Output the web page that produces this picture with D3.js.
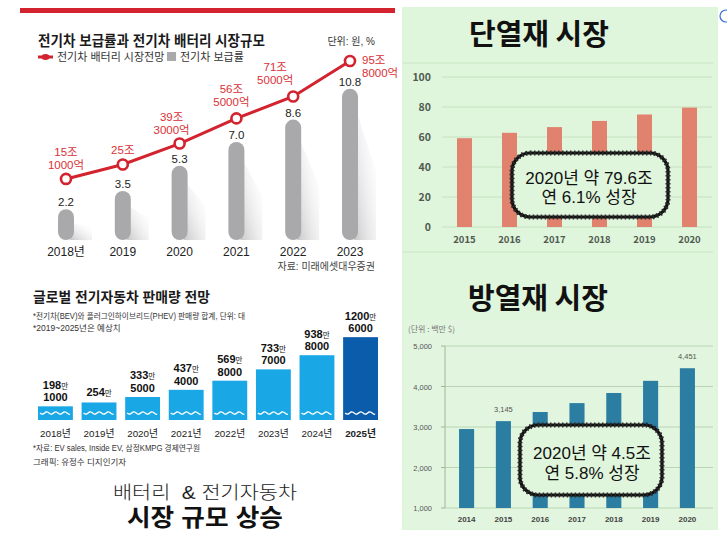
<!DOCTYPE html>
<html><head><meta charset="utf-8">
<script src="https://cdn.jsdelivr.net/npm/d3@7"></script>
<style>
body{margin:0;background:#fff;}
svg{display:block;font-family:"Noto Sans CJK KR","Noto Sans",sans-serif;}
.pre{white-space:pre;}
</style></head>
<body>
<svg id="c" width="727" height="548"></svg>
<script>
// ---------- DATA ----------
const evYears = ["2018년","2019","2020","2021","2022","2023"];
const evRate = [2.2, 3.5, 5.3, 7.0, 8.6, 10.8];              // 전기차 보급률 (%)
const batteryMarket = [15.1, 25, 39.3, 56.5, 71.5, 95.8];    // 배터리 시장 (조 원)
const batteryLabels = [["15조","1000억"],["25조"],["39조","3000억"],["56조","5000억"],["71조","5000억"],["95조","8000억"]];

const salesYears = ["2018년","2019년","2020년","2021년","2022년","2023년","2024년","2025년"];
const salesValues = [1981000, 2540000, 3335000, 4374000, 5698000, 7337000, 9388000, 12006000];
const salesLabels = [["198","1000"],["254"],["333","5000"],["437","4000"],["569","8000"],["733","7000"],["938","8000"],["1200","6000"]];

const insulYears = ["2015","2016","2017","2018","2019","2020"];
const insulValues = [59.2, 62.8, 66.6, 70.7, 75.0, 79.6];
const insulTicks = [0, 20, 40, 60, 80, 100];

const heatYears = ["2014","2015","2016","2017","2018","2019","2020"];
const heatValues = [2950, 3145, 3370, 3590, 3840, 4140, 4451];
const heatTicks = [1000, 2000, 3000, 4000, 5000];
const heatLabeled = ["2015","2020"];

// ---------- DRAW ----------
const svg = d3.select("#c");
const NUM = '"Liberation Sans","Noto Sans CJK KR",sans-serif';
const NARROW = '"Liberation Sans Narrow","Liberation Sans","Noto Sans CJK KR",sans-serif';
const defs = svg.append("defs");
const sg = defs.append("linearGradient").attr("id","shadow").attr("x1","0").attr("y1","1").attr("x2","1").attr("y2","0");
sg.append("stop").attr("offset","0").attr("stop-color","#9a9a9a").attr("stop-opacity",0.55);
sg.append("stop").attr("offset","1").attr("stop-color","#ffffff").attr("stop-opacity",0);

// ===== Chart 1: 전기차 보급률과 배터리 시장규모 =====
svg.append("rect").attr("x",20).attr("y",8).attr("width",375).attr("height",5).attr("fill","#d2232f");
svg.append("text").attr("x",38).attr("y",46).attr("font-family",NUM).attr("font-size",14.5).attr("font-weight",700).attr("fill","#1a1a1a")
  .attr("textLength",227).attr("lengthAdjust","spacingAndGlyphs").text("전기차 보급률과 전기차 배터리 시장규모");
svg.append("text").attr("x",375).attr("y",45).attr("text-anchor","end").attr("font-family",NUM).attr("font-size",10).attr("fill","#333").text("단위: 원, %");
// legend
svg.append("line").attr("x1",38).attr("x2",53).attr("y1",57).attr("y2",57).attr("stroke","#d2232f").attr("stroke-width",3);
svg.append("ellipse").attr("cx",45.5).attr("cy",57).attr("rx",4).attr("ry",3).attr("fill","#d2232f");
svg.append("text").attr("x",57).attr("y",61).attr("font-family",NUM).attr("font-size",11).attr("fill","#333").text("전기차 배터리 시장전망");
svg.append("rect").attr("x",167).attr("y",52).attr("width",9).attr("height",9).attr("fill","#a9a9ab");
svg.append("text").attr("x",180).attr("y",61).attr("font-family",NUM).attr("font-size",11).attr("fill","#333").text("전기차 보급률");

const x1 = d3.scalePoint().domain(evYears).range([66, 350]);
const yBar1 = d3.scaleLinear().domain([0, 12]).range([240, 72]);
const yLine1 = d3.scaleLinear().domain([0, 100]).range([201, 54.8]);
const bw1 = 16;
// shadows
svg.append("g").selectAll("path").data(evRate).join("path")
  .attr("d",(d,i)=>{const cx=x1(evYears[i]);const top=yBar1(d);const b=240;
     return `M${cx+4},${b} L${cx+4},${top+14} L${cx+26},${b-Math.max(6,(b-top)*0.45)} L${cx+26},${b} Z`;})
  .attr("fill","url(#shadow)");
svg.append("g").selectAll("rect").data(evRate).join("rect")
  .attr("x",(d,i)=>x1(evYears[i])-bw1/2).attr("width",bw1)
  .attr("y",d=>yBar1(d)).attr("height",d=>240-yBar1(d))
  .attr("rx",8).attr("fill","#a9a9ab");
svg.append("g").selectAll("text").data(evRate).join("text")
  .attr("x",(d,i)=>x1(evYears[i])).attr("y",d=>yBar1(d)-3)
  .attr("text-anchor","middle").attr("font-family",NUM).attr("font-size",11.5).attr("fill","#222").text(d=>d.toFixed(1));
svg.append("g").selectAll("text").data(evYears).join("text")
  .attr("x",d=>x1(d)).attr("y",256).attr("text-anchor","middle").attr("font-family",NUM).attr("font-size",12).attr("fill","#222").text(d=>d);
svg.append("text").attr("x",375).attr("y",270).attr("text-anchor","end").attr("font-family",NUM).attr("font-size",10).attr("fill","#444").text("자료: 미래에셋대우증권");
// line
const line1 = d3.line().x((d,i)=>x1(evYears[i])).y(d=>yLine1(d));
svg.append("path").datum(batteryMarket).attr("d",line1).attr("fill","none").attr("stroke","#d2232f").attr("stroke-width",3);
svg.append("g").selectAll("circle").data(batteryMarket).join("circle")
  .attr("cx",(d,i)=>x1(evYears[i])).attr("cy",d=>yLine1(d)).attr("r",5)
  .attr("fill","#fff").attr("stroke","#d2232f").attr("stroke-width",2.6);
const lblDx = [0, 0, -8, -5, -18, 12];
batteryLabels.forEach((lines,i)=>{
  const px = x1(evYears[i]), py = yLine1(batteryMarket[i]);
  const right = i === batteryLabels.length-1;
  const t = svg.append("text").attr("font-family",NUM).attr("font-size",11.5).attr("fill","#d93036")
    .attr("text-anchor", right ? "start" : "middle");
  lines.forEach((s,j)=>{
    let by;
    if (right) by = py + 3 + j*13;
    else by = py - 10 - (lines.length-1-j)*13 - (i>=3?2:0);
    t.append("tspan").attr("x",px+lblDx[i]).attr("y",by).text(s);
  });
});

// ===== Chart 2: 글로벌 전기자동차 판매량 전망 =====
svg.append("text").attr("x",33).attr("y",302).attr("font-family",NUM).attr("font-size",14).attr("font-weight",700).attr("fill","#1a1a1a")
  .attr("textLength",177).attr("lengthAdjust","spacingAndGlyphs").text("글로벌 전기자동차 판매량 전망");
svg.append("text").attr("x",33).attr("y",319).attr("font-family",NUM).attr("font-size",8.5).attr("fill","#333")
  .attr("textLength",212).attr("lengthAdjust","spacingAndGlyphs").text("*전기차(BEV)와 플러그인하이브리드(PHEV) 판매량 합계, 단위: 대");
svg.append("text").attr("x",33).attr("y",331).attr("font-family",NUM).attr("font-size",8.5).attr("fill","#333").text("*2019~2025년은 예상치");

const x2 = d3.scaleBand().domain(salesYears).range([38, 378]).paddingInner(0.2).paddingOuter(0);
const y2 = d3.scaleLinear().domain([0, 10000000]).range([420, 351]);
svg.append("g").selectAll("rect").data(salesValues).join("rect")
  .attr("x",(d,i)=>x2(salesYears[i])).attr("width",x2.bandwidth())
  .attr("y",d=>y2(d)).attr("height",d=>420-y2(d))
  .attr("fill",(d,i)=>i===salesValues.length-1?"#0b5cab":"#1aa7e6");
// waves
salesYears.forEach(yr=>{
  const x0 = x2(yr), w = x2.bandwidth(), pts=[];
  for(let k=0;k<=w-4;k+=2) pts.push([x0+2+k, 413 + 1.6*Math.sin(k/9*2*Math.PI)]);
  svg.append("path").attr("d",d3.line().curve(d3.curveBasis)(pts)).attr("fill","none").attr("stroke","#fff").attr("stroke-width",1.4);
});
salesLabels.forEach((lines,i)=>{
  const cx = x2(salesYears[i]) + x2.bandwidth()/2, top = y2(salesValues[i]);
  const t = svg.append("text").attr("text-anchor","middle").attr("font-family",NARROW).attr("font-size",11).attr("font-weight",700).attr("fill","#111");
  if (lines.length===2){
    const a = t.append("tspan").attr("x",cx).attr("y",top-17.5);
    a.append("tspan").text(lines[0]); a.append("tspan").attr("font-size",7.5).attr("font-weight",400).text("만");
    t.append("tspan").attr("x",cx).attr("y",top-5).text(lines[1]);
  } else {
    const a = t.append("tspan").attr("x",cx).attr("y",top-6);
    a.append("tspan").text(lines[0]); a.append("tspan").attr("font-size",7.5).attr("font-weight",400).text("만");
  }
});
svg.append("g").selectAll("text").data(salesYears).join("text")
  .attr("x",d=>x2(d)+x2.bandwidth()/2).attr("y",437).attr("text-anchor","middle").attr("font-family",NUM)
  .attr("font-size",9.8).attr("fill","#222")
  .attr("font-weight",(d,i)=>i===salesYears.length-1?700:400).text(d=>d);
svg.append("text").attr("x",33).attr("y",451).attr("font-family",NUM).attr("font-size",8.5).attr("fill","#333")
  .attr("textLength",167).attr("lengthAdjust","spacingAndGlyphs").text("*자료: EV sales, Inside EV, 삼정KMPG 경제연구원");
svg.append("text").attr("x",33).attr("y",465).attr("font-family",NUM).attr("font-size",8.5).attr("fill","#333").text("그래픽: 유정수 디지인기자");

// bottom caption
svg.append("text").attr("class","pre").attr("x",205).attr("y",499).attr("text-anchor","middle").attr("font-family",NUM).attr("font-size",18).attr("font-weight",300)
  .attr("fill","#222").attr("textLength",184).attr("lengthAdjust","spacingAndGlyphs").text("배터리  & 전기자동차");
svg.append("text").attr("x",205).attr("y",526).attr("text-anchor","middle").attr("font-family",NUM).attr("font-size",24).attr("font-weight",700)
  .attr("fill","#111").attr("textLength",156).attr("lengthAdjust","spacingAndGlyphs").text("시장 규모 상승");

// ===== Right side panels =====
svg.append("rect").attr("x",402).attr("y",7).attr("width",316).attr("height",523).attr("fill","#dff5dc");
svg.append("circle").attr("cx",726).attr("cy",16).attr("r",6).attr("fill","none").attr("stroke","#3d6fd6").attr("stroke-width",1.2);

// --- 단열재 시장 ---
svg.append("text").attr("x",539).attr("y",45).attr("text-anchor","middle").attr("font-size",29).attr("font-weight",700).attr("fill","#111").text("단열재 시장");
svg.append("line").attr("x1",403).attr("x2",713).attr("y1",63).attr("y2",63).attr("stroke","#c6e4c1");
svg.append("line").attr("x1",403).attr("x2",713).attr("y1",252).attr("y2",252).attr("stroke","#c6e4c1");
const x3 = d3.scaleBand().domain(insulYears).range([442, 712]).paddingInner(0.667).paddingOuter(0.333);
const y3 = d3.scaleLinear().domain([0, 100]).range([227, 77]);
svg.append("g").selectAll("line").data(insulTicks).join("line")
  .attr("x1",442).attr("x2",712).attr("y1",d=>y3(d)).attr("y2",d=>y3(d)).attr("stroke","#c4e2bf").attr("stroke-width",1);
svg.append("g").selectAll("text").data(insulTicks).join("text")
  .attr("x",431).attr("y",d=>y3(d)+4).attr("text-anchor","end").attr("font-size",10.5).attr("font-weight",700).attr("fill","#505a50").text(d=>d);
svg.append("g").selectAll("rect").data(insulValues).join("rect")
  .attr("x",(d,i)=>x3(insulYears[i])).attr("width",x3.bandwidth())
  .attr("y",d=>y3(d)).attr("height",d=>227-y3(d)).attr("fill","#e0826d");
svg.append("g").selectAll("text").data(insulYears).join("text")
  .attr("x",d=>x3(d)+x3.bandwidth()/2).attr("y",243).attr("text-anchor","middle")
  .attr("font-size",9.5).attr("font-weight",700).attr("fill","#505a50").text(d=>d);

function noteBox(x,y,w,h,l1,l2,cx,b1,b2){
  const g = svg.append("g");
  g.append("rect").attr("x",x).attr("y",y).attr("width",w).attr("height",h).attr("rx",18)
    .attr("fill","#dff5dc").attr("stroke","#111").attr("stroke-width",3.2);
  g.append("rect").attr("x",x).attr("y",y).attr("width",w).attr("height",h).attr("rx",18)
    .attr("fill","none").attr("stroke","#2a2a2a").attr("stroke-width",5).attr("stroke-dasharray","1.5 2.5");
  g.append("text").attr("x",cx).attr("y",b1).attr("text-anchor","middle").attr("font-family",NUM).attr("font-size",17).attr("fill","#111").text(l1);
  g.append("text").attr("x",cx).attr("y",b2).attr("text-anchor","middle").attr("font-family",NUM).attr("font-size",17).attr("fill","#111").text(l2);
}
noteBox(512,153,156,64,"2020년 약 79.6조","연 6.1% 성장",589,184,203);

// --- 방열재 시장 ---
svg.append("text").attr("x",538).attr("y",309).attr("text-anchor","middle").attr("font-size",29).attr("font-weight",700).attr("fill","#111").text("방열재 시장");
svg.append("rect").attr("x",404).attr("y",320).attr("width",310).attr("height",208).attr("fill","#e2f6df");
svg.append("text").attr("x",408).attr("y",332).attr("font-size",8).attr("fill","#777").text("(단위 : 백만 $)");
const x4 = d3.scaleBand().domain(heatYears).range([448, 706]).paddingInner(0.59).paddingOuter(0.3);
const y4 = d3.scaleLinear().domain([1000, 5000]).range([508, 346]);
svg.append("g").selectAll("line").data(heatTicks).join("line")
  .attr("x1",445).attr("x2",713).attr("y1",d=>y4(d)).attr("y2",d=>y4(d)).attr("stroke","#b8d6b3").attr("stroke-width",1);
svg.append("line").attr("x1",445).attr("x2",445).attr("y1",y4(5000)).attr("y2",y4(1000)).attr("stroke","#9bb897");
svg.append("g").selectAll("line.t").data(heatTicks).join("line")
  .attr("x1",441).attr("x2",445).attr("y1",d=>y4(d)).attr("y2",d=>y4(d)).attr("stroke","#9bb897");
svg.append("g").selectAll("text").data(heatTicks).join("text")
  .attr("x",432).attr("y",d=>y4(d)+3).attr("text-anchor","end").attr("font-family",NUM).attr("font-size",7.5).attr("fill","#555")
  .text(d=>d3.format(",")(d));
svg.append("g").selectAll("rect").data(heatValues).join("rect")
  .attr("x",(d,i)=>x4(heatYears[i])).attr("width",x4.bandwidth())
  .attr("y",d=>y4(d)).attr("height",d=>508-y4(d)).attr("fill","#2b7ea2");
svg.append("g").selectAll("text").data(heatValues.filter((d,i)=>heatLabeled.includes(heatYears[i]))).join("text")
  .attr("x",d=>x4(heatYears[heatValues.indexOf(d)])+x4.bandwidth()/2).attr("y",d=>y4(d)-9)
  .attr("text-anchor","middle").attr("font-family",NUM).attr("font-size",7.5).attr("fill","#555").text(d=>d3.format(",")(d));
svg.append("g").selectAll("text.x").data(heatYears).join("text")
  .attr("x",d=>x4(d)+x4.bandwidth()/2).attr("y",522).attr("text-anchor","middle").attr("font-family",NUM)
  .attr("font-size",8).attr("font-weight",700).attr("fill","#444").text(d=>d);
noteBox(520,425,142,70,"2020년 약 4.5조","연 5.8% 성장",592,459,479);
</script>
</body></html>
